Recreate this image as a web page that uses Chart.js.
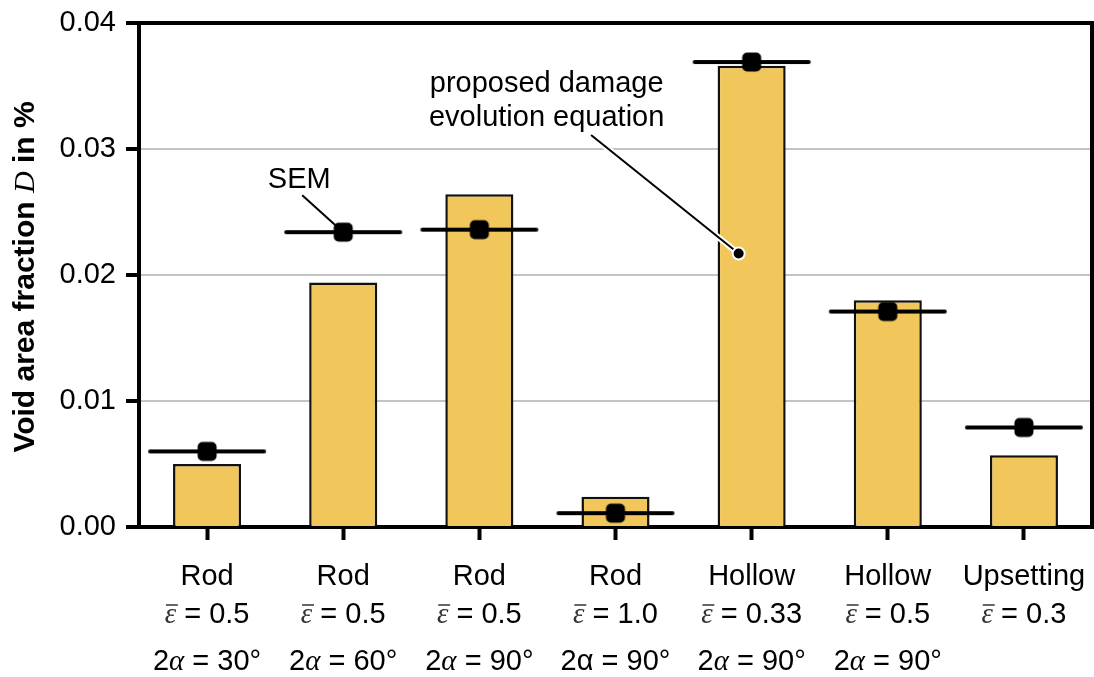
<!DOCTYPE html>
<html>
<head>
<meta charset="utf-8">
<script src="https://cdn.jsdelivr.net/npm/chart.js@4"></script>
<style>
  html, body { margin: 0; padding: 0; background: #fff; }
  #wrap { width: 1094px; height: 677px; position: relative; }
</style>
</head>
<body>
<div id="wrap"><canvas id="voidChart" width="1094" height="677"></canvas></div>
<script>
// --- DATA ---
const processes = ['Rod', 'Rod', 'Rod', 'Rod', 'Hollow', 'Hollow', 'Upsetting'];
const strains = ['0.5', '0.5', '0.5', '1.0', '0.33', '0.5', '0.3'];
const angles = ['30°', '60°', '90°', '90°', '90°', '90°', ''];
const modelValues = [0.0050, 0.0194, 0.0264, 0.0024, 0.0366, 0.0180, 0.0057]; // proposed damage evolution equation
const semValues = [0.0060, 0.0234, 0.0236, 0.0011, 0.0369, 0.0171, 0.0079];    // SEM measurements
const yTicks = [0, 0.01, 0.02, 0.03, 0.04];

const SANS = '"Liberation Sans", Arial, sans-serif';
const SERIF = '"Liberation Serif", "DejaVu Serif", serif';
const FS = 29;

// SEM marker: horizontal bar with rounded square in the middle
function makeSemMarker() {
    const c = document.createElement('canvas');
    c.width = 122; c.height = 24;
    const g = c.getContext('2d');
    g.strokeStyle = '#000';
    g.lineWidth = 4;
    g.lineCap = 'round';
    g.beginPath();
    g.moveTo(4, 12); g.lineTo(118, 12);
    g.stroke();
    g.fillStyle = '#000';
    g.beginPath();
    g.roundRect(61 - 9.5, 12 - 9.5, 19, 19, 5);
    g.fill();
    return c;
}

// Frame, multi-font axis labels and annotations
const decorPlugin = {
    id: 'decor',
    afterDraw(chart) {
        const ctx = chart.ctx;
        const area = chart.chartArea;
        const xs = chart.scales.x, ys = chart.scales.y;
        ctx.save();

        // top + right frame
        ctx.strokeStyle = '#000';
        ctx.lineWidth = 4;
        ctx.lineCap = 'square';
        ctx.beginPath();
        ctx.moveTo(area.left, area.top);
        ctx.lineTo(area.right, area.top);
        ctx.lineTo(area.right, area.bottom);
        ctx.stroke();

        // x labels
        ctx.fillStyle = '#000';
        ctx.textBaseline = 'alphabetic';
        const sans = FS + 'px ' + SANS;
        const serifIt = 'italic ' + FS + 'px ' + SERIF;
        processes.forEach((p, i) => {
            const cx = xs.getPixelForValue(i);
            ctx.font = sans;
            ctx.textAlign = 'center';
            ctx.fillText(p, cx, area.bottom + 58);

            // strain line: eps-bar = value
            ctx.textAlign = 'left';
            ctx.font = serifIt;
            const we = ctx.measureText('ε').width;
            ctx.font = sans;
            const rest = ' = ' + strains[i];
            const wr = ctx.measureText(rest).width;
            let x0 = cx - (we + wr) / 2;
            const yb = area.bottom + 96;
            ctx.font = serifIt;
            ctx.fillStyle = '#333';
            ctx.fillText('ε', x0, yb);
            ctx.strokeStyle = '#333';
            ctx.lineWidth = 1.5;
            ctx.beginPath();
            ctx.moveTo(x0 + 2, yb - 18);
            ctx.lineTo(x0 + we + 1, yb - 18);
            ctx.stroke();
            ctx.fillStyle = '#000';
            ctx.font = sans;
            ctx.fillText(rest, x0 + we, yb);

            // die angle line
            if (angles[i]) {
                const alphaFont = i === 3 ? sans : serifIt;
                ctx.font = sans;
                const w2 = ctx.measureText('2').width;
                const wRest = ctx.measureText(' = ' + angles[i]).width;
                ctx.font = alphaFont;
                const wa = ctx.measureText('α').width;
                let x1 = cx - (w2 + wa + wRest) / 2;
                const y3 = area.bottom + 143;
                ctx.font = sans;
                ctx.fillText('2', x1, y3);
                ctx.font = alphaFont;
                ctx.fillText('α', x1 + w2, y3);
                ctx.font = sans;
                ctx.fillText(' = ' + angles[i], x1 + w2 + wa, y3);
            }
        });

        // y title
        ctx.save();
        ctx.translate(26, 277);
        ctx.rotate(-Math.PI / 2);
        const bold = 'bold 30px ' + SANS;
        const dFont = 'italic 30px ' + SERIF;
        const parts = [['Void area fraction ', bold], ['D', dFont], [' in %', bold]];
        let total = 0;
        parts.forEach(pt => { ctx.font = pt[1]; total += ctx.measureText(pt[0]).width; });
        let tx = -total / 2;
        ctx.textBaseline = 'middle';
        ctx.textAlign = 'left';
        parts.forEach(pt => {
            ctx.font = pt[1];
            ctx.fillText(pt[0], tx, 0);
            tx += ctx.measureText(pt[0]).width;
        });
        ctx.restore();

        // annotation: SEM
        const semX = xs.getPixelForValue(1), semY = ys.getPixelForValue(semValues[1]);
        ctx.font = FS + 'px ' + SANS;
        ctx.textAlign = 'center';
        ctx.fillStyle = '#000';
        ctx.fillText('SEM', semX - 44, semY - 44);
        ctx.strokeStyle = '#000';
        ctx.lineWidth = 2;
        ctx.lineCap = 'butt';
        ctx.beginPath();
        ctx.moveTo(semX - 41, semY - 37);
        ctx.lineTo(semX, semY);
        ctx.stroke();

        // annotation: proposed damage evolution equation
        const dX = xs.getPixelForValue(4) - 13, dY = ys.getPixelForValue(0.0217);
        const sX = dX - 147, sY = dY - 118;
        ctx.lineCap = 'round';
        ctx.strokeStyle = '#fff';
        ctx.lineWidth = 6;
        ctx.beginPath(); ctx.moveTo(sX, sY); ctx.lineTo(dX, dY); ctx.stroke();
        ctx.strokeStyle = '#000';
        ctx.lineWidth = 2;
        ctx.beginPath(); ctx.moveTo(sX, sY); ctx.lineTo(dX, dY); ctx.stroke();
        ctx.fillStyle = '#fff';
        ctx.beginPath(); ctx.arc(dX, dY, 7, 0, Math.PI * 2); ctx.fill();
        ctx.fillStyle = '#000';
        ctx.beginPath(); ctx.arc(dX, dY, 5, 0, Math.PI * 2); ctx.fill();
        ctx.fillText('proposed damage', sX - 45, sY - 44);
        ctx.fillText('evolution equation', sX - 45, sY - 10);

        ctx.restore();
    }
};

const ctx = document.getElementById('voidChart').getContext('2d');
new Chart(ctx, {
    data: {
        labels: processes.map((p, i) => p + ' ' + strains[i]),
        datasets: [
            {
                type: 'line',
                label: 'SEM',
                data: semValues,
                showLine: false,
                pointStyle: makeSemMarker(),
                pointRadius: 10,
                order: 0
            },
            {
                type: 'bar',
                label: 'proposed damage evolution equation',
                data: modelValues,
                backgroundColor: '#F1C75B',
                borderColor: '#111',
                borderWidth: 2.5,
                categoryPercentage: 1,
                barPercentage: 0.5,
                order: 1
            }
        ]
    },
    options: {
        responsive: false,
        animation: false,
        layout: { autoPadding: false, padding: { top: 23, right: 2, left: 0, bottom: 0 } },
        plugins: {
            legend: { display: false },
            tooltip: { enabled: false }
        },
        scales: {
            x: {
                offset: true,
                grid: {
                    offset: false,
                    drawOnChartArea: false,
                    drawTicks: true,
                    tickLength: 13,
                    tickWidth: 4,
                    tickColor: '#000'
                },
                border: { display: true, color: '#000', width: 4 },
                ticks: { display: false },
                afterFit: s => { s.height = 150; }
            },
            y: {
                min: 0,
                max: 0.04,
                afterBuildTicks: s => { s.ticks = yTicks.map(v => ({ value: v })); },
                grid: {
                    color: '#c4c4c4',
                    lineWidth: 2,
                    tickLength: 13,
                    tickWidth: 4,
                    tickColor: '#000'
                },
                border: { display: true, color: '#000', width: 4 },
                ticks: {
                    color: '#000',
                    padding: 10,
                    font: { family: SANS, size: FS },
                    callback: v => v.toFixed(2)
                },
                afterFit: s => { s.width = 139; s.paddingTop = 0; s.paddingBottom = 0; }
            }
        }
    },
    plugins: [decorPlugin]
});
</script>
</body>
</html>
